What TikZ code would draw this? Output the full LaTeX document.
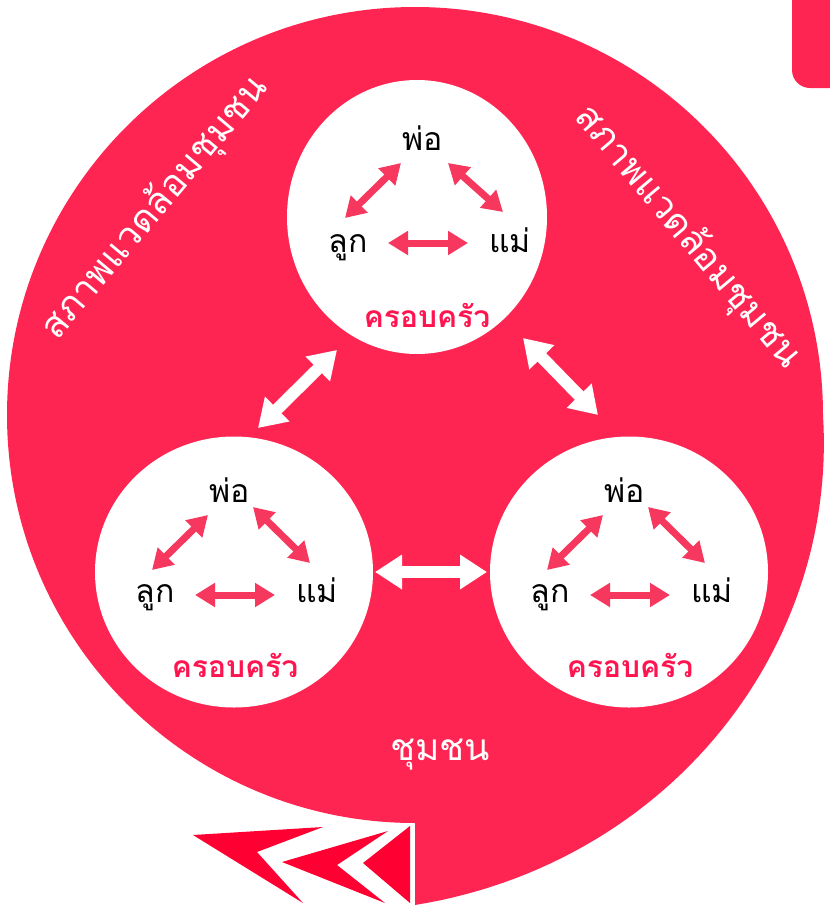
\documentclass[tikz,border=0pt]{standalone}
\usepackage{fontspec}
\newfontfamily\thai[Script=Thai]{Loma}
\usetikzlibrary{arrows.meta,shapes.geometric}
\definecolor{bigred}{RGB}{255,37,82}
\definecolor{chevred}{RGB}{255,0,51}
\definecolor{famarrowcol}{RGB}{246,56,94}
\definecolor{famtext}{RGB}{255,20,80}
\tikzset{
  famcircle/.style={shape=ellipse, fill=white, inner sep=0pt},
  famlbl/.style={anchor=base, text=black, font=\thai\fontsize{32}{36}\selectfont},
  famname/.style={anchor=base, text=famtext, font=\thai\bfseries\fontsize{30}{34}\selectfont},
  famarrow/.style={draw=famarrowcol, line width=7pt, {Triangle[width=23pt,length=20pt]}-{Triangle[width=23pt,length=20pt]}},
  linkarrow/.style={draw=white, line width=12pt, {Triangle[width=33pt,length=27pt]}-{Triangle[width=33pt,length=27pt]}},
  outertxt/.style={text=white, font=\thai\fontsize{37}{42}\selectfont},
  chev/.style={fill=chevred}
}
\begin{document}
\begin{tikzpicture}[x=1pt,y=-1pt]
\clip (0,0) rectangle (830,908);
\fill[white] (0,0) rectangle (830,908);
% big community shape
\fill[bigred] (415,823) arc[start angle=90,end angle=360,radius=408]
  -- plot[domain=0:90,samples=60,variable=\t]
     ({415+(408+41*(\t/90+(\t/90)*(\t/90)))*cos(\t)},{415+(408+41*(\t/90+(\t/90)*(\t/90)))*sin(\t)})
  -- cycle;
% top-right tab
\fill[bigred, rounded corners=18pt] (792,-30) -- (792,88) -- (860,88) -- (860,-30) -- cycle;
% chevrons
\fill[chev] (193,835) -- (323,827) -- (257,852) -- (303,903) -- cycle;
\fill[chev] (282,862) -- (388,831) -- (337,865) -- (385,903) -- cycle;
\fill[chev] (410,826) -- (410,903) -- (363,863) -- cycle;

% family circles
\node[famcircle, minimum width=260pt, minimum height=274pt] (ctop) at (417,217) {};
\node[famcircle, minimum width=278pt, minimum height=271pt] (cleft) at (234,572) {};
\node[famcircle, minimum width=278pt, minimum height=271pt] (cright) at (629,572) {};

% top family
\node[famlbl] (pTop) at (423,150) {พ่อ};
\node[famlbl] (lTop) at (348,252) {ลูก};
\node[famlbl] (mTop) at (510,252) {แม่};
\node[famname] (fTop) at (427,327) {ครอบครัว};
\coordinate (tLa) at (345,218); \coordinate (tLb) at (401,163);
\coordinate (tRa) at (448,163); \coordinate (tRb) at (503,212);
\coordinate (tHa) at (388,243); \coordinate (tHb) at (468,243);
\draw[famarrow] (tLa) -- (tLb);
\draw[famarrow] (tRa) -- (tRb);
\draw[famarrow] (tHa) -- (tHb);

% left family
\node[famlbl] (pLeft) at (230,502) {พ่อ};
\node[famlbl] (lLeft) at (155,602) {ลูก};
\node[famlbl] (mLeft) at (317,602) {แม่};
\node[famname] (fLeft) at (235,677) {ครอบครัว};
\coordinate (aLa) at (152,570); \coordinate (aLb) at (208,515);
\coordinate (aRa) at (253,507); \coordinate (aRb) at (310,563);
\coordinate (aHa) at (195,595); \coordinate (aHb) at (275,595);
\draw[famarrow] (aLa) -- (aLb);
\draw[famarrow] (aRa) -- (aRb);
\draw[famarrow] (aHa) -- (aHb);

% right family
\node[famlbl] (pRight) at (625,502) {พ่อ};
\node[famlbl] (lRight) at (550,602) {ลูก};
\node[famlbl] (mRight) at (712,602) {แม่};
\node[famname] (fRight) at (630,677) {ครอบครัว};
\coordinate (bLa) at (547,570); \coordinate (bLb) at (603,515);
\coordinate (bRa) at (648,507); \coordinate (bRb) at (705,563);
\coordinate (bHa) at (590,595); \coordinate (bHb) at (670,595);
\draw[famarrow] (bLa) -- (bLb);
\draw[famarrow] (bRa) -- (bRb);
\draw[famarrow] (bHa) -- (bHb);

% links between families
\coordinate (kAa) at (258,428); \coordinate (kAb) at (337,350);
\coordinate (kBa) at (523,338); \coordinate (kBb) at (598,415);
\coordinate (kCa) at (375,572); \coordinate (kCb) at (487,572);
\draw[linkarrow] (kAa) -- (kAb);
\draw[linkarrow] (kBa) -- (kBb);
\draw[linkarrow] (kCa) -- (kCb);

% outer labels
\node[outertxt, rotate=50] (envL) at (155,208) {สภาพแวดล้อมชุมชน};
\node[outertxt, rotate=-50] (envR) at (688,237) {สภาพแวดล้อมชุมชน};
\node[outertxt] (comm) at (440,755) {ชุมชน};
\end{tikzpicture}
\end{document}
